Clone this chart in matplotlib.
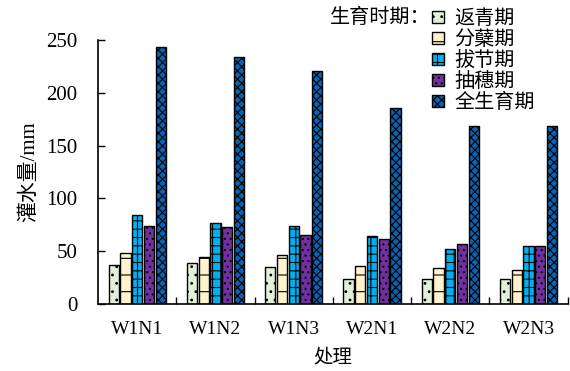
import numpy as np
import matplotlib
matplotlib.use("Agg")
import matplotlib.pyplot as plt

plt.rcParams['font.family'] = ['Liberation Serif', 'Noto Sans CJK SC']
plt.rcParams['hatch.linewidth'] = 0.8

# data
treatments = ["W1N1", "W1N2", "W1N3", "W2N1", "W2N2", "W2N3"]
stages = ["返青期", "分蘖期", "拔节期", "抽穗期", "全生育期"]
fanqing = [37, 39, 35, 24, 24, 24]
fennie = [48, 44, 46, 36, 34, 32]
bajie = [84, 77, 74, 64, 52, 55]
chousui = [74, 73, 65, 61, 57, 55]
quan = [243, 234, 221, 186, 169, 169]

series = [fanqing, fennie, bajie, chousui, quan]
colors = ["#e2efda", "#fff2cc", "#00b0f0", "#7030a0", "#0a62b0"]
hatches = ["..", "-", "++", "...", "xxxx"]

fig = plt.figure(figsize=(5.7, 3.71), dpi=100)
ax = fig.add_axes([0.172, 0.181, 0.824, 0.711])

x = np.arange(len(treatments))
w = 0.13
step = 0.15
for i, vals in enumerate(series):
    ax.bar(x + (i - 2) * step, vals, width=w, color=colors[i],
           edgecolor="black", linewidth=1, hatch=hatches[i], label=stages[i])

ax.set_xlim(-0.5, 5.5)
ax.set_ylim(0, 250)
ax.set_yticks(range(0, 251, 50))
ax.set_xticks(np.arange(0.5, 6, 1))
ax.set_xticklabels([])
ax.set_xticks(x, minor=True)
ax.set_xticklabels(treatments, minor=True, fontsize=14)
ax.tick_params(axis="x", which="minor", length=0, pad=12)
ax.tick_params(axis="x", which="major", direction="in", length=5, width=1)
ax.tick_params(axis="y", direction="in", length=5, width=1, labelsize=15, pad=15)

ax.spines["top"].set_visible(False)
ax.spines["right"].set_visible(False)
ax.spines["left"].set_linewidth(1.2)
ax.spines["bottom"].set_linewidth(1.2)

ax.set_xlabel("处理", fontsize=14, labelpad=8)
ax.set_ylabel("灌水量/mm", fontsize=15, labelpad=5)

leg = fig.legend(loc="upper left", bbox_to_anchor=(0.741, 1.0), frameon=False,
                 fontsize=14.5, handlelength=0.55, handleheight=0.55,
                 handletextpad=0.55, labelspacing=0.1, borderpad=0)
fig.text(0.579, 0.951, "生育时期：", fontsize=14.5, va="center")

fig.savefig("out.png")
